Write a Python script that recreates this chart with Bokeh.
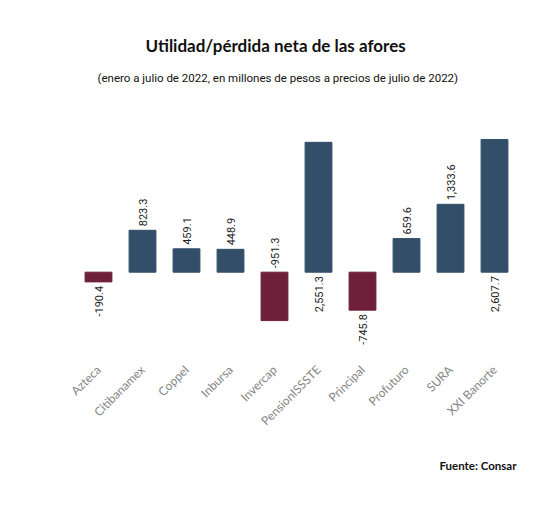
import math
from bokeh.plotting import figure
from bokeh.models import ColumnDataSource, Range1d, Title
from bokeh.core.properties import value
from bokeh.embed import file_html
from bokeh.resources import INLINE

categories = ["Azteca", "Citibanamex", "Coppel", "Inbursa", "Invercap",
              "PensionISSSTE", "Principal", "Profuturo", "SURA", "XXI Banorte"]
values = [-190.4, 823.3, 459.1, 448.9, -951.3, 2551.3, -745.8, 659.6, 1333.6, 2607.7]

title_text = "Utilidad/pérdida neta de las afores"
subtitle_text = "(enero a julio de 2022, en millones de pesos a precios de julio de 2022)"
source_text = "Fuente: Consar"

POS_COLOR = "#324e68"
NEG_COLOR = "#6e203a"

# label placement: large bars get their label on the other side of zero
POS_LIMIT = 2000
NEG_LIMIT = -900

colors, label_y, label_align, label_off, label_txt = [], [], [], [], []
for v in values:
    colors.append(POS_COLOR if v >= 0 else NEG_COLOR)
    label_txt.append(f"{v:,.1f}")
    if v >= 0:
        if v < POS_LIMIT:
            label_y.append(v); label_align.append("left"); label_off.append(-4)
        else:
            label_y.append(0); label_align.append("right"); label_off.append(4)
    else:
        if v > NEG_LIMIT:
            label_y.append(v); label_align.append("right"); label_off.append(4)
        else:
            label_y.append(0); label_align.append("left"); label_off.append(-4)

src = ColumnDataSource(dict(cat=categories, val=values, color=colors,
                            ly=label_y, la=label_align, lo=label_off, lt=label_txt))

p = figure(x_range=categories, y_range=Range1d(-1637, 2784),
           width=534, height=493, output_backend="svg", toolbar_location=None,
           min_border_left=76, min_border_right=18, min_border_top=130,
           min_border_bottom=138)
p.background_fill_color = "white"
p.border_fill_color = "white"
p.outline_line_color = None
p.xgrid.grid_line_color = None
p.ygrid.grid_line_color = None
p.yaxis.visible = False

p.vbar(x="cat", top="val", bottom=0, width=0.61, color="color", source=src)

p.text(x="cat", y="ly", text="lt", angle=math.pi / 2, text_align="la",
       y_offset="lo", text_baseline="middle", text_font=value("Roboto"),
       text_font_size="11px", text_color="#1a1a1a", source=src)

ax = p.xaxis[0]
ax.axis_line_color = None
ax.major_tick_line_color = None
ax.minor_tick_line_color = None
ax.major_label_orientation = math.pi / 4
ax.major_label_standoff = 6
ax.major_label_text_font = "Lato"
ax.major_label_text_font_size = "12px"
ax.major_label_text_color = "#858585"

# spacer between plot area and subtitle
p.add_layout(Title(text=" ", standoff=38, text_font="Roboto",
                   text_font_size="1px", text_color="white"), "above")
p.add_layout(Title(text=subtitle_text, align="left", offset=21, standoff=10,
                   text_font="Roboto", text_font_style="normal",
                   text_font_size="11.5px", text_color="#111111"), "above")
p.add_layout(Title(text=title_text, align="left", offset=69, standoff=16,
                   text_font="Lato", text_font_style="bold",
                   text_font_size="17px", text_color="#111111"), "above")
p.add_layout(Title(text=source_text, align="right", offset=0, standoff=40,
                   text_font="Lato", text_font_style="bold",
                   text_font_size="11.5px", text_color="#111111"), "below")

open("out.html", "w").write(file_html(p, INLINE))
